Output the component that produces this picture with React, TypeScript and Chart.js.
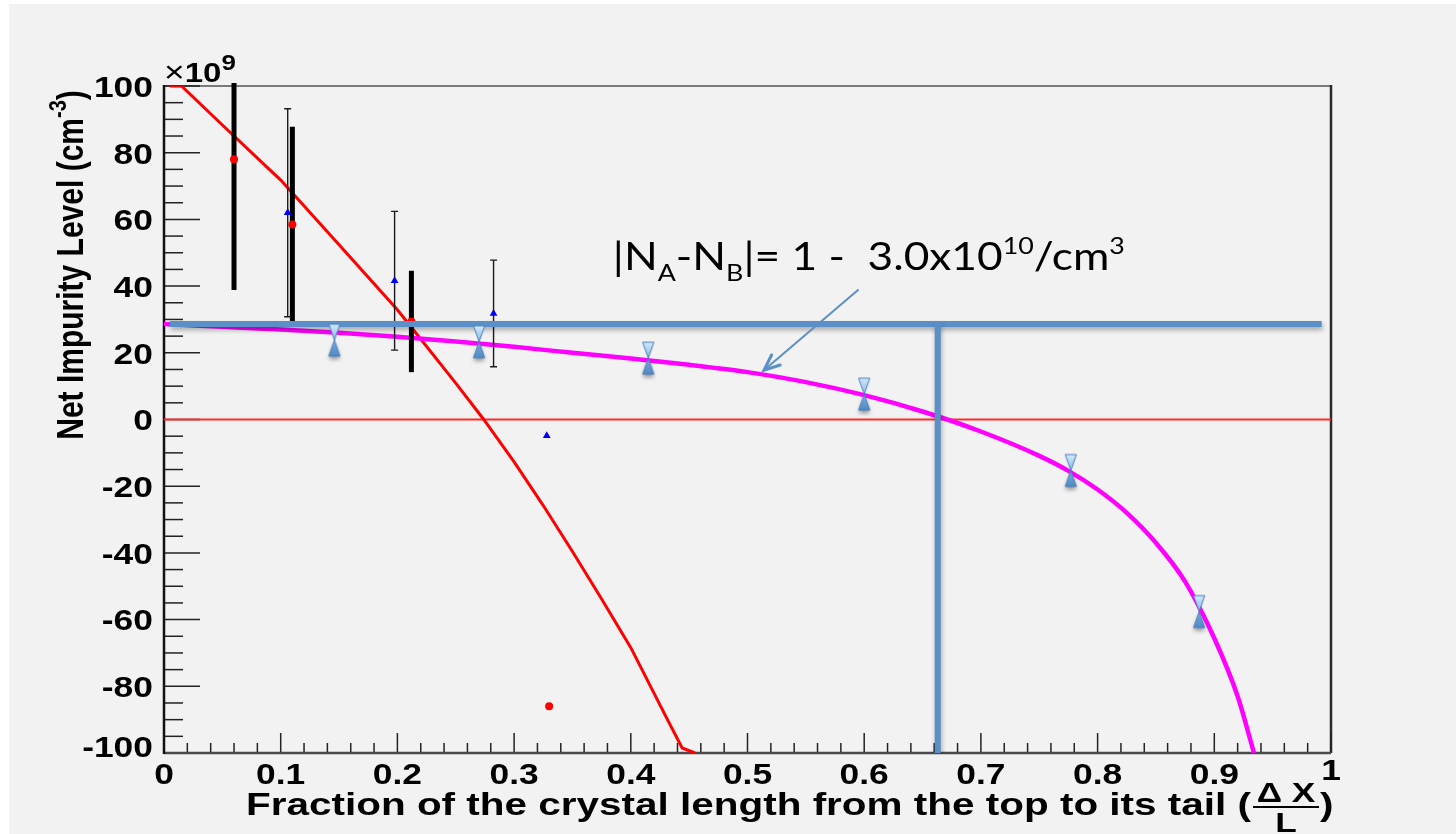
import React, { useEffect, useRef } from "react";
import { Chart, registerables } from "chart.js";

Chart.register(...registerables);

// Axis ranges and tick labels
const xTickValues = [0, 0.1, 0.2, 0.3, 0.4, 0.5, 0.6, 0.7, 0.8, 0.9, 1];
const xTickLabels = ["0", "0.1", "0.2", "0.3", "0.4", "0.5", "0.6", "0.7", "0.8", "0.9", "1"];
const yTickValues = [-100, -80, -60, -40, -20, 0, 20, 40, 60, 80, 100];
const yTickLabels = ["-100", "-80", "-60", "-40", "-20", "0", "20", "40", "60", "80", "100"];

// Segregation model, red curve (units of 1e9 cm^-3)
const redCurveX = [0.005, 0.015, 0.05, 0.1, 0.15, 0.2, 0.25, 0.274, 0.3, 0.325, 0.35, 0.375, 0.4, 0.43, 0.444, 0.455];
const redCurveY = [100, 100, 88.3, 71.8, 52.4, 32.9, 10.9, 0, -12.7, -25.8, -39.6, -53.8, -68.4, -89.0, -98.5, -100];

// Fitted profile, magenta curve
const fitCurveX = [0, 0.05, 0.1, 0.15, 0.2, 0.25, 0.3, 0.35, 0.4, 0.45, 0.5, 0.55, 0.6, 0.65, 0.7, 0.75, 0.775, 0.8, 0.825, 0.85, 0.875, 0.9, 0.92, 0.934];
const fitCurveY = [28.6, 27.8, 27.0, 26.0, 24.8, 23.4, 21.8, 20.0, 18.3, 16.4, 14.2, 11.2, 7.3, 2.4, -3.6, -10.9, -15.4, -21.0, -28.0, -37.0, -48.6, -65.6, -83.0, -100];

// Hall measurements (red dots, thick error bars)
const hallX = [0.060, 0.110, 0.212, 0.330];
const hallY = [78.0, 58.5, 29.4, -86.0];
const hallErr = [39.2, 29.3, 15.2, 0];

// C-V measurements (blue triangles, thin error bars)
const cvX = [0.106, 0.1976, 0.2824, 0.328];
const cvY = [62.0, 41.6, 31.8, -4.9];
const cvErr = [31.2, 20.8, 16.0, 0];

// Measured net impurity along the crystal (hourglass markers)
const sampleX = [0.146, 0.270, 0.415, 0.600, 0.777, 0.887];
const sampleY = [23.8, 23.3, 18.4, 7.6, -15.3, -57.6];

// Detector-grade window
const windowLevel = 28.6;
const windowStartX = 0.005;
const windowEndX = 0.992;
const windowCutX = 0.663;

// Annotation anchor and arrow (data units)
const noteX = 0.3846;
const noteY = 44.8;
const arrowFrom = [0.5947, 38.8];
const arrowTo = [0.5141, 14.8];

const ROOT_FONT = "'Liberation Sans', Arial, sans-serif";
const SX = 1.18;

function pts(xs: number[], ys: number[]) {
  return xs.map((x, i) => ({ x, y: ys[i] }));
}

type Part = { t: string; font: string; dy: number };

function drawParts(ctx: CanvasRenderingContext2D, parts: Part[], x: number, y: number, sx: number, align: "left" | "center" | "right" = "left") {
  let total = 0;
  const widths = parts.map((p) => {
    ctx.font = p.font;
    const w = ctx.measureText(p.t).width;
    total += w;
    return w;
  });
  ctx.save();
  ctx.translate(x, y);
  ctx.scale(sx, 1);
  let cx = align === "left" ? 0 : align === "center" ? -total / 2 : -total;
  ctx.textAlign = "left";
  ctx.textBaseline = "alphabetic";
  parts.forEach((p, i) => {
    ctx.font = p.font;
    ctx.fillText(p.t, cx, p.dy);
    cx += widths[i];
  });
  ctx.restore();
  return total * sx;
}

function makeHourglass(): HTMLCanvasElement {
  const c = document.createElement("canvas");
  c.width = 18;
  c.height = 50;
  const g = c.getContext("2d")!;
  const cx = 9, mid = 25, h = 16, hw = 5.6;
  const bottomPath = () => {
    g.beginPath();
    g.moveTo(cx, mid);
    g.lineTo(cx + hw, mid + h);
    g.lineTo(cx - hw, mid + h);
    g.closePath();
  };
  const topPath = () => {
    g.beginPath();
    g.moveTo(cx - hw, mid - h);
    g.lineTo(cx + hw, mid - h);
    g.lineTo(cx, mid);
    g.closePath();
  };
  g.save();
  g.shadowColor = "rgba(0,0,0,0.4)";
  g.shadowBlur = 4;
  g.shadowOffsetY = 3;
  bottomPath();
  const gb = g.createLinearGradient(0, mid, 0, mid + h);
  gb.addColorStop(0, "#79ade0");
  gb.addColorStop(1, "#5089c6");
  g.fillStyle = gb;
  g.fill();
  g.restore();
  bottomPath();
  g.strokeStyle = "#4a7db8";
  g.lineWidth = 1;
  g.stroke();
  topPath();
  const gt = g.createLinearGradient(0, mid - h, 0, mid);
  gt.addColorStop(0, "#d4eafc");
  gt.addColorStop(1, "#86b9e8");
  g.fillStyle = gt;
  g.fill();
  g.strokeStyle = "#4a7db8";
  g.stroke();
  return c;
}

const framePlugin = {
  id: "rootFrame",
  beforeDraw(chart: any) {
    const ctx = chart.ctx as CanvasRenderingContext2D;
    ctx.save();
    ctx.fillStyle = "#ffffff";
    ctx.fillRect(0, 0, chart.width, chart.height);
    ctx.fillStyle = "#f2f2f2";
    ctx.fillRect(9, 4, chart.width - 9, chart.height - 4);
    ctx.restore();
  },
  beforeDatasetsDraw(chart: any) {
    const ctx = chart.ctx as CanvasRenderingContext2D;
    const { left, right, top, bottom } = chart.chartArea;
    const xs = chart.scales.x;
    const ys = chart.scales.y;
    ctx.save();
    ctx.lineCap = "butt";
    ctx.strokeStyle = "#7a7a7a";
    ctx.lineWidth = 2;
    ctx.beginPath();
    ctx.moveTo(left, top);
    ctx.lineTo(right, top);
    ctx.stroke();
    ctx.strokeStyle = "#2a2a2a";
    ctx.lineWidth = 2.5;
    ctx.beginPath();
    ctx.moveTo(right, top - 1);
    ctx.lineTo(right, bottom);
    ctx.stroke();
    // x ticks, pointing into the frame
    ctx.strokeStyle = "#222";
    ctx.lineWidth = 1.5;
    for (let i = 0; i <= 50; i++) {
      const v = i / 50;
      const px = xs.getPixelForValue(v);
      const len = i % 5 === 0 ? 20 : 10;
      ctx.beginPath();
      ctx.moveTo(px, bottom);
      ctx.lineTo(px, bottom - len);
      ctx.stroke();
    }
    // y ticks
    for (let i = 0; i <= 40; i++) {
      const v = -100 + i * 5;
      const py = ys.getPixelForValue(v);
      const len = i % 4 === 0 ? 36 : 19;
      ctx.beginPath();
      ctx.moveTo(left, py);
      ctx.lineTo(left + len, py);
      ctx.stroke();
    }
    ctx.strokeStyle = "#4a4a4a";
    ctx.lineWidth = 2.5;
    ctx.beginPath();
    ctx.moveTo(left, bottom);
    ctx.lineTo(right, bottom);
    ctx.stroke();
    ctx.strokeStyle = "#111";
    ctx.lineWidth = 2.5;
    ctx.beginPath();
    ctx.moveTo(left, top - 1);
    ctx.lineTo(left, bottom + 1);
    ctx.stroke();
    ctx.restore();
  },
  beforeDatasetDraw(chart: any, args: any) {
    const ds = chart.data.datasets[args.index];
    if (ds.shadow) {
      const ctx = chart.ctx as CanvasRenderingContext2D;
      ctx.shadowColor = "rgba(0,0,0,0.32)";
      ctx.shadowBlur = 5;
      ctx.shadowOffsetX = 1;
      ctx.shadowOffsetY = 3;
    }
  },
  afterDatasetDraw(chart: any, args: any) {
    const ctx = chart.ctx as CanvasRenderingContext2D;
    const ds = chart.data.datasets[args.index];
    if (ds.shadow) {
      ctx.shadowColor = "rgba(0,0,0,0)";
      ctx.shadowBlur = 0;
      ctx.shadowOffsetX = 0;
      ctx.shadowOffsetY = 0;
    }
    if (ds.label !== "fit") return;
    // error bars sit above the curves, below the markers
    const xs = chart.scales.x;
    const ys = chart.scales.y;
    const { left, right, top, bottom } = chart.chartArea;
    ctx.save();
    ctx.beginPath();
    ctx.rect(left, top - 3, right - left, bottom - top + 3);
    ctx.clip();
    ctx.strokeStyle = "#000";
    ctx.lineCap = "butt";
    ctx.lineWidth = 5;
    hallX.forEach((x, i) => {
      if (!hallErr[i]) return;
      const px = xs.getPixelForValue(x);
      ctx.beginPath();
      ctx.moveTo(px, ys.getPixelForValue(hallY[i] + hallErr[i]));
      ctx.lineTo(px, ys.getPixelForValue(hallY[i] - hallErr[i]));
      ctx.stroke();
    });
    ctx.strokeStyle = "#1a1a1a";
    ctx.lineWidth = 1.4;
    cvX.forEach((x, i) => {
      if (!cvErr[i]) return;
      const px = xs.getPixelForValue(x);
      const y1 = ys.getPixelForValue(cvY[i] + cvErr[i]);
      const y2 = ys.getPixelForValue(cvY[i] - cvErr[i]);
      ctx.beginPath();
      ctx.moveTo(px, y1);
      ctx.lineTo(px, y2);
      ctx.moveTo(px - 3.5, y1);
      ctx.lineTo(px + 3.5, y1);
      ctx.moveTo(px - 3.5, y2);
      ctx.lineTo(px + 3.5, y2);
      ctx.stroke();
    });
    ctx.restore();
  },
  afterDraw(chart: any) {
    const ctx = chart.ctx as CanvasRenderingContext2D;
    const { left } = chart.chartArea;
    const xs = chart.scales.x;
    const ys = chart.scales.y;
    ctx.save();
    ctx.fillStyle = "#000";
    const tickFont = `bold 30px ${ROOT_FONT}`;
    // y tick labels
    yTickValues.forEach((v, i) => {
      let py = ys.getPixelForValue(v) + 10.8;
      if (i === 0) py -= 7;
      drawParts(ctx, [{ t: yTickLabels[i], font: tickFont, dy: 0 }], left - 11, py, SX, "right");
    });
    // x tick labels
    xTickValues.forEach((v, i) => {
      const px = xs.getPixelForValue(v);
      const base = i === xTickValues.length - 1 ? 780 : 784;
      drawParts(ctx, [{ t: xTickLabels[i], font: tickFont, dy: 0 }], px, base, SX, "center");
    });
    // exponent of the y axis
    drawParts(
      ctx,
      [
        { t: "\u00d7", font: `30px ${ROOT_FONT}`, dy: 0 },
        { t: "10", font: `bold 28px ${ROOT_FONT}`, dy: 0 },
        { t: "9", font: `bold 22px ${ROOT_FONT}`, dy: -12 },
      ],
      left,
      82,
      SX
    );
    // x axis title with the stacked fraction
    const titleFont = `bold 31px ${ROOT_FONT}`;
    const titleMain = "Fraction of the crystal length from the top to its tail (";
    ctx.font = titleFont;
    const tsx = (1251 - 246) / ctx.measureText(titleMain).width;
    drawParts(ctx, [{ t: titleMain, font: titleFont, dy: 0 }], 246, 815, tsx);
    const fracL = 1253, fracR = 1319, fracC = (fracL + fracR) / 2;
    drawParts(ctx, [{ t: "\u0394 X", font: `bold 27px ${ROOT_FONT}`, dy: 0 }], fracC, 802, tsx, "center");
    ctx.fillRect(fracL, 806, fracR - fracL, 2);
    drawParts(ctx, [{ t: "L", font: `bold 27px ${ROOT_FONT}`, dy: 0 }], fracC, 832, tsx, "center");
    drawParts(ctx, [{ t: ")", font: titleFont, dy: 0 }], 1320, 815, tsx);
    // y axis title, rotated
    ctx.save();
    ctx.translate(83, 265);
    ctx.rotate(-Math.PI / 2);
    ctx.scale(1, 1.22);
    const yParts: Part[] = [
      { t: "Net Impurity Level (cm", font: `bold 30px ${ROOT_FONT}`, dy: 0 },
      { t: "-3", font: `bold 20px ${ROOT_FONT}`, dy: -14 },
      { t: ")", font: `bold 30px ${ROOT_FONT}`, dy: 0 },
    ];
    drawParts(ctx, yParts, 0, 0, 1, "center");
    ctx.restore();

    // annotation: detector-grade impurity window
    const ax = xs.getPixelForValue(noteX);
    const ay = ys.getPixelForValue(noteY);
    const nf = "38px Lato, 'Open Sans', sans-serif";
    const sf = "23px Lato, 'Open Sans', sans-serif";
    const noteParts: Part[] = [
      { t: "|N", font: nf, dy: 0 },
      { t: "A", font: sf, dy: 11 },
      { t: "-N", font: nf, dy: 0 },
      { t: "B", font: sf, dy: 11 },
      { t: "|= 1 -  3.0x10", font: nf, dy: 0 },
      { t: "10", font: sf, dy: -16 },
      { t: "/cm", font: nf, dy: 0 },
      { t: "3", font: sf, dy: -16 },
    ];
    let nw = 0;
    noteParts.forEach((p) => {
      ctx.font = p.font;
      nw += ctx.measureText(p.t).width;
    });
    drawParts(ctx, noteParts, ax, ay, 512 / nw);

    // arrow to the fitted curve
    const x1 = xs.getPixelForValue(arrowFrom[0]);
    const y1 = ys.getPixelForValue(arrowFrom[1]);
    const x2 = xs.getPixelForValue(arrowTo[0]);
    const y2 = ys.getPixelForValue(arrowTo[1]);
    const ang = Math.atan2(y2 - y1, x2 - x1);
    ctx.strokeStyle = "#5b8fc7";
    ctx.lineWidth = 2;
    ctx.lineCap = "round";
    ctx.beginPath();
    ctx.moveTo(x1, y1);
    ctx.lineTo(x2, y2);
    ctx.stroke();
    ctx.lineWidth = 3;
    ctx.beginPath();
    ctx.moveTo(x2 - 17 * Math.cos(ang - 0.4), y2 - 17 * Math.sin(ang - 0.4));
    ctx.lineTo(x2, y2);
    ctx.lineTo(x2 - 17 * Math.cos(ang + 0.4), y2 - 17 * Math.sin(ang + 0.4));
    ctx.stroke();
    ctx.restore();
  },
};

export default function App() {
  const ref = useRef<HTMLCanvasElement>(null);
  useEffect(() => {
    document.body.style.margin = "0";
    const hourglass = makeHourglass();
    const chart = new Chart(ref.current!, {
      type: "scatter",
      data: {
        datasets: [
          {
            label: "zero",
            data: pts([0, 1], [0, 0]),
            showLine: true,
            borderColor: "#ff2a2a",
            borderWidth: 2,
            pointRadius: 0,
            order: 10,
          },
          {
            label: "model",
            data: pts(redCurveX, redCurveY),
            showLine: true,
            borderColor: "#ff0000",
            borderWidth: 3,
            pointRadius: 0,
            order: 9,
          },
          {
            label: "fit",
            data: pts(fitCurveX, fitCurveY),
            showLine: true,
            borderColor: "#ff00ff",
            borderWidth: 4.5,
            pointRadius: 0,
            cubicInterpolationMode: "monotone",
            order: 8,
          },
          {
            label: "hall",
            data: pts(hallX, hallY),
            backgroundColor: "#ff0000",
            borderColor: "#ff0000",
            pointStyle: "circle",
            pointRadius: 4,
            borderWidth: 0,
            order: 7,
          },
          {
            label: "cv",
            data: pts(cvX, cvY),
            backgroundColor: "#0000ff",
            borderColor: "#0000ff",
            pointStyle: "triangle",
            pointRadius: 4.5,
            borderWidth: 0,
            order: 6,
          },
          {
            label: "window",
            data: pts([windowStartX, windowEndX], [windowLevel, windowLevel]),
            showLine: true,
            borderColor: "#5b8fc7",
            borderWidth: 6,
            borderCapStyle: "butt",
            pointRadius: 0,
            shadow: true,
            order: 5,
          } as any,
          {
            label: "cut",
            data: pts([windowCutX, windowCutX], [windowLevel, -100]),
            showLine: true,
            borderColor: "#5b8fc7",
            borderWidth: 6,
            borderCapStyle: "butt",
            pointRadius: 0,
            shadow: true,
            order: 4,
          } as any,
          {
            label: "samples",
            data: pts(sampleX, sampleY),
            pointStyle: hourglass,
            pointRadius: 10,
            order: 1,
          },
        ],
      },
      options: {
        responsive: false,
        animation: false,
        events: [],
        layout: { padding: { left: 164, right: 125, top: 86, bottom: 81 } },
        plugins: { legend: { display: false }, tooltip: { enabled: false } },
        scales: {
          x: { type: "linear", min: 0, max: 1, display: false },
          y: { type: "linear", min: -100, max: 100, display: false },
        },
      },
      plugins: [framePlugin],
    });
    return () => chart.destroy();
  }, []);
  return (
    <div style={{ width: 1456, height: 834 }}>
      <canvas ref={ref} width={1456} height={834} style={{ display: "block" }} />
    </div>
  );
}
